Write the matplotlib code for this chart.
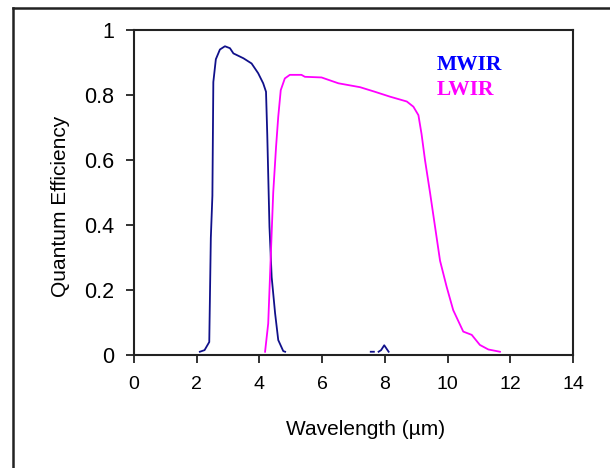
import numpy as np
import matplotlib
matplotlib.use("Agg")
import matplotlib.pyplot as plt
from matplotlib.lines import Line2D

# MWIR response (NaN splits off the little blip near 8 um)
mwir_wl = [2.10, 2.25, 2.40, 2.45, 2.50, 2.53, 2.61, 2.74, 2.90, 3.06, 3.17,
           3.49, 3.75, 3.96, 4.12, 4.21, 4.25, 4.32, 4.39, 4.50, 4.60, 4.76, 4.82,
           4.9, 7.55, 7.65, np.nan, 7.80, 7.88, 7.98, 8.05, 8.12]
mwir_qe = [0.01, 0.015, 0.04, 0.36, 0.49, 0.84, 0.91, 0.94, 0.95, 0.944, 0.928,
           0.913, 0.897, 0.867, 0.836, 0.81, 0.677, 0.395, 0.24, 0.128, 0.046, 0.012, 0.01,
           np.nan, 0.01, 0.01, np.nan, 0.01, 0.015, 0.03, 0.02, 0.01]

# LWIR response
lwir_wl = [4.18, 4.28, 4.36, 4.44, 4.53, 4.60, 4.68, 4.81, 4.97, 5.34, 5.45,
           5.98, 6.52, 7.21, 7.68, 8.16, 8.70, 8.91, 9.07, 9.17, 9.28, 9.44,
           9.60, 9.76, 9.97, 10.18, 10.50, 10.77, 11.03, 11.30, 11.67]
lwir_qe = [0.01, 0.097, 0.30, 0.50, 0.64, 0.733, 0.815, 0.851, 0.862, 0.862, 0.856,
           0.854, 0.836, 0.824, 0.81, 0.795, 0.78, 0.764, 0.738, 0.68, 0.60, 0.50,
           0.395, 0.29, 0.21, 0.138, 0.072, 0.062, 0.031, 0.017, 0.01]

x_ticks = [0, 2, 4, 6, 8, 10, 12, 14]
y_ticks = [0, 0.2, 0.4, 0.6, 0.8, 1]
y_tick_labels = ["0", "0.2", "0.4", "0.6", "0.8", "1"]

plt.rcParams['font.family'] = ['Liberation Sans', 'DejaVu Sans']

fig = plt.figure(figsize=(6.10, 4.68), dpi=100)
ax = fig.add_axes([134/610, 1 - 355/468, 439/610, 325/468])

ax.plot(mwir_wl, mwir_qe, color='#10108a', lw=1.3)
ax.plot(lwir_wl, lwir_qe, color='#ff00ff', lw=1.3)

ax.text(9.66, 0.892, "MWIR", color='#0000ff', fontsize=15.5, fontweight='bold',
        family='Liberation Serif', va='center', ha='left')
ax.text(9.66, 0.815, "LWIR", color='#ff00ff', fontsize=15.5, fontweight='bold',
        family='Liberation Serif', va='center', ha='left')

ax.set_xlim(0, 14)
ax.set_ylim(0, 1)
ax.set_xticks(x_ticks)
ax.set_yticks(y_ticks)
ax.set_yticklabels(y_tick_labels)
ax.tick_params(axis='both', direction='out', length=6, width=1.3, color='#222222')
ax.tick_params(axis='x', labelsize=14, pad=9)
ax.tick_params(axis='y', labelsize=15.5, pad=8)
for s in ax.spines.values():
    s.set_linewidth(1.5)
    s.set_color('#222222')

ax.set_xlabel("Wavelength (\u00b5m)", fontsize=15)
ax.set_ylabel("Quantum Efficiency", fontsize=15)
ax.xaxis.set_label_coords(0.528, -0.2)
ax.yaxis.set_label_coords(-0.146, 0.458)

# outer frame, runs off the right and bottom of the picture
fig.add_artist(Line2D([13/610, 13/610], [-0.1, 1 - 8/468], transform=fig.transFigure,
                      color='#222222', lw=1.8))
fig.add_artist(Line2D([13/610, 1.1], [1 - 8/468, 1 - 8/468], transform=fig.transFigure,
                      color='#222222', lw=1.8))

fig.savefig("out.png", dpi=100)
